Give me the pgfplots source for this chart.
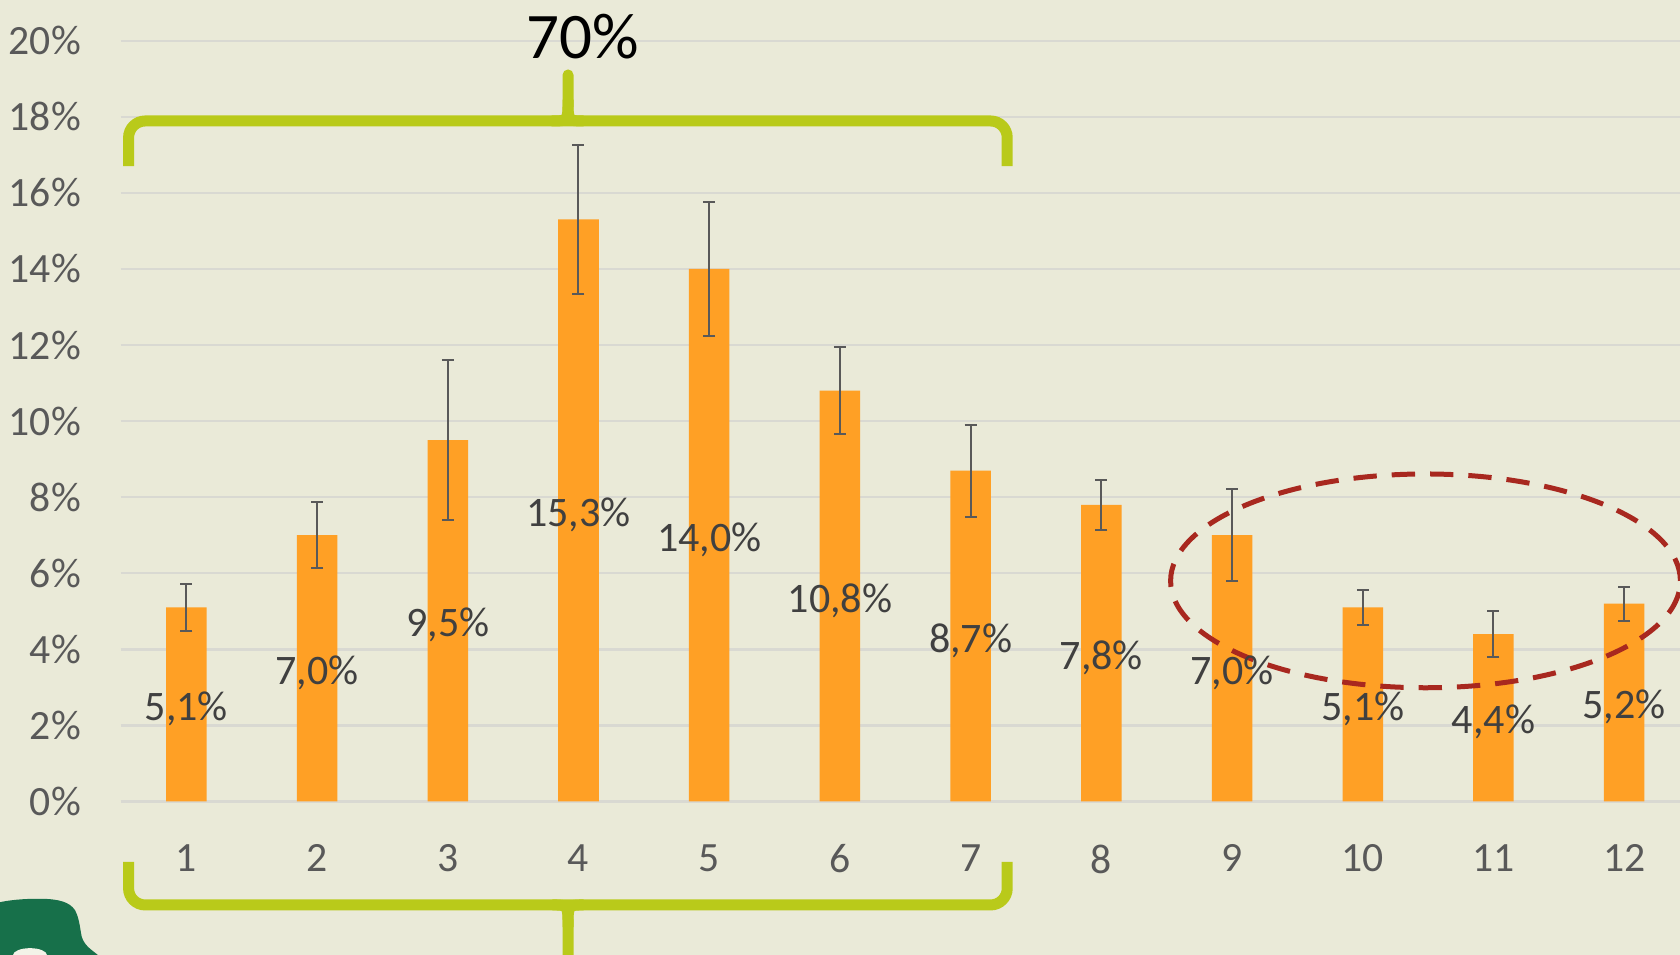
\documentclass[border=0pt]{standalone}
\usepackage{pgfplots}
\pgfplotsset{compat=1.18}
\usepackage{fontspec}
\setmainfont{Carlito}

\definecolor{bgbeige}{HTML}{EAEAD8}
\definecolor{barorange}{HTML}{FFA025}
\definecolor{bracegreen}{HTML}{B9CA1A}
\definecolor{ellred}{HTML}{A8281F}
\definecolor{gridgray}{HTML}{D9D9D2}
\definecolor{ticktext}{HTML}{595959}
\definecolor{labtext}{HTML}{404040}
\definecolor{logogreen}{HTML}{17704A}

\begin{document}
\begin{tikzpicture}
% frame of the picture (axis box corner is at the origin)
\useasboundingbox (-36.3pt,-46.05pt) rectangle (467.7pt,240.45pt);
\clip (-36.3pt,-46.05pt) rectangle (467.7pt,240.45pt);
\fill[bgbeige] (-36.3pt,-46.05pt) rectangle (467.7pt,240.45pt);
% logo corner, bottom left
\fill[logogreen] (-36.3pt,-30.2pt) .. controls (-32pt,-29.3pt) and (-27pt,-29.1pt) .. (-22.8pt,-29.2pt)
  .. controls (-19pt,-29.4pt) and (-15.5pt,-30pt) .. (-13.8pt,-32.6pt)
  .. controls (-12.5pt,-35pt) and (-12.3pt,-38pt) .. (-11.8pt,-40.5pt)
  .. controls (-11pt,-43.5pt) and (-8pt,-45pt) .. (-6.9pt,-46.1pt)
  -- (-36.3pt,-46.1pt) -- cycle;
\fill[bgbeige!60!white] (-27.3pt,-46.1pt) ellipse [x radius=5.1pt, y radius=2.1pt];

\begin{axis}[
  at={(0pt,0pt)}, anchor=south west,
  scale only axis,
  width=467.7pt, height=228.24pt,
  xmin=0.5, xmax=12.427,
  ymin=0, ymax=20,
  axis line style={draw=none},
  major tick length=0pt,
  xtick={1,2,3,4,5,6,7,8,9,10,11,12},
  ytick={0,2,4,6,8,10,12,14,16,18,20},
  ymajorgrids=true,
  grid style={gridgray, line width=0.7pt},
  /pgf/number format/assume math mode=true,
  yticklabel={\pgfmathprintnumber{\tick}\%},
  ticklabel style={font=\fontsize{12.5}{15}\selectfont, text=ticktext},
  yticklabel style={xshift=-8.5pt},
  xticklabel style={yshift=-9.4pt},
  clip=false,
  ]

  \addplot[
  ybar,
  bar width=0.31,
  fill=barorange,
  draw=none,
  visualization depends on=y \as \rawy,
  nodes near coords={\pgfmathprintnumber[fixed,fixed zerofill,precision=1,use comma]{\rawy}\%},
  every node near coord/.append style={anchor=center,
    shift={(axis direction cs:0,-\rawy/2)}, yshift=-1.3pt,
    font=\fontsize{12.6}{15}\selectfont, text=labtext},
  error bars/.cd,
  y dir=both, y explicit,
  error bar style={ticktext, line width=0.6pt},
  error mark options={ticktext, line width=0.6pt, mark size=1.8pt, rotate=90},
  ]
  coordinates {
    (1,5.1)  +- (0,0.62)
    (2,7.0)  +- (0,0.87)
    (3,9.5)  +- (0,2.1)
    (4,15.3) +- (0,1.95)
    (5,14.0) +- (0,1.77)
    (6,10.8) +- (0,1.14)
    (7,8.7)  +- (0,1.21)
    (8,7.8)  +- (0,0.66)
    (9,7.0)  +- (0,1.21)
    (10,5.1) +- (0,0.47)
    (11,4.4) +- (0,0.6)
    (12,5.2) +- (0,0.45)
  };

  % top brace and its share
  \draw[bracegreen, line width=3.3pt, rounded corners=5pt]
    (axis cs:0.558,16.7) -- (axis cs:0.558,17.89) -- (axis cs:7.28,17.89) -- (axis cs:7.28,16.7);
  \draw[bracegreen, line width=3.3pt, line cap=round]
    (axis cs:3.80,17.89) .. controls (axis cs:3.92,17.89) .. (axis cs:3.92,18.45) -- (axis cs:3.92,19.1);
  \draw[bracegreen, line width=3.3pt]
    (axis cs:4.04,17.89) .. controls (axis cs:3.92,17.89) .. (axis cs:3.92,18.45);
  \node[font=\fontsize{19.5}{23}\selectfont, text=black] at (axis cs:4.03,20.12) {70\%};

  % bottom brace
  \draw[bracegreen, line width=3.3pt, rounded corners=5pt]
    (axis cs:0.558,-1.59) -- (axis cs:0.558,-2.72) -- (axis cs:7.28,-2.72) -- (axis cs:7.28,-1.59);
  \draw[bracegreen, line width=3.3pt]
    (axis cs:3.80,-2.72) .. controls (axis cs:3.92,-2.72) .. (axis cs:3.92,-3.3) -- (axis cs:3.92,-4.6);
  \draw[bracegreen, line width=3.3pt]
    (axis cs:4.04,-2.72) .. controls (axis cs:3.92,-2.72) .. (axis cs:3.92,-3.3);

  % dashed ellipse round the last four months
  \draw[ellred, line width=1.5pt, dash pattern=on 7pt off 4.5pt]
    (axis cs:10.48,5.8) ellipse [x radius=1.95, y radius=2.81];
\end{axis}
\end{tikzpicture}
\end{document}
